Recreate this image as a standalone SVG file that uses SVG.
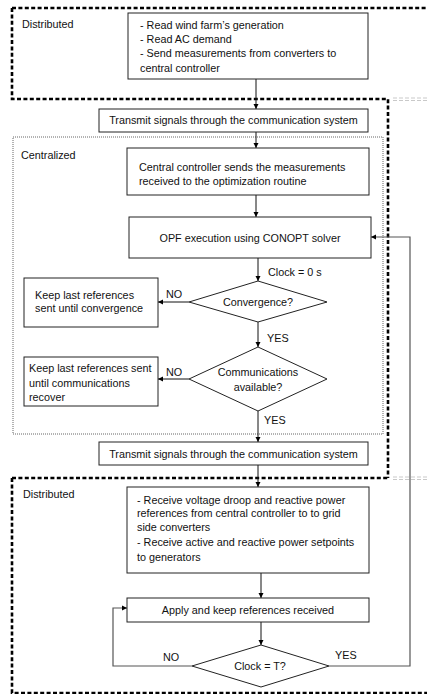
<svg xmlns="http://www.w3.org/2000/svg" width="427" height="694" viewBox="0 0 427 694">
<defs>
<marker id="ah" markerWidth="6" markerHeight="6" refX="5" refY="3" orient="auto" markerUnits="userSpaceOnUse">
<path d="M0,0.5 L5,3 L0,5.5 Z" fill="#000"/>
</marker>
</defs>
<style>
text{font-family:"Liberation Sans",Arial,sans-serif;font-size:10.8px;fill:#111}
.c{text-anchor:middle}
.box{fill:#fff;stroke:#222;stroke-width:1}
.thick{fill:none;stroke:#000;stroke-width:2.6;stroke-dasharray:4 2.4}
.dot{fill:none;stroke:#555;stroke-width:0.9;stroke-dasharray:1 1}
.faint{fill:none;stroke:#bbb;stroke-width:0.8;stroke-dasharray:4 2}
.ln{fill:none;stroke:#111;stroke-width:1}
.fb{fill:none;stroke:#555;stroke-width:1.2}
</style>
<rect width="427" height="694" fill="#fff"/>
<g id="regions">
<path class="thick" d="M12,8 H427 M12,8 V99 H388 V478 M12,478 H388 M12,478 V693 H427"/>
<path class="faint" d="M393,98 H427 M393,100.5 H427 M393,477 H427 M393,479.5 H427"/>
<rect class="dot" x="13" y="137" width="370" height="297"/>
<text x="22" y="28">Distributed</text>
<text x="21" y="159">Centralized</text>
<text x="23" y="498">Distributed</text>
</g>
<g id="connectors">
<line class="ln" x1="256" y1="79" x2="256" y2="109" marker-end="url(#ah)"/>
<line class="ln" x1="256" y1="132" x2="256" y2="148" marker-end="url(#ah)"/>
<line class="ln" x1="256" y1="195" x2="256" y2="217" marker-end="url(#ah)"/>
<line class="ln" x1="258" y1="258" x2="258" y2="281" marker-end="url(#ah)"/>
<line class="ln" x1="189" y1="302" x2="158" y2="302" marker-end="url(#ah)"/>
<line class="ln" x1="258" y1="322" x2="258" y2="347" marker-end="url(#ah)"/>
<line class="ln" x1="189" y1="379" x2="158" y2="379" marker-end="url(#ah)"/>
<line class="ln" x1="258" y1="411" x2="258" y2="442" marker-end="url(#ah)"/>
<line class="ln" x1="258" y1="465" x2="258" y2="487" marker-end="url(#ah)"/>
<line class="ln" x1="261" y1="573" x2="261" y2="598" marker-end="url(#ah)"/>
<line class="ln" x1="261" y1="622" x2="261" y2="645" marker-end="url(#ah)"/>
<path class="fb" d="M192,666 H113 V608 H127" marker-end="url(#ah)"/>
<path class="fb" d="M329,666 H410 V237 H371" marker-end="url(#ah)"/>
<text x="268" y="276">Clock = 0 s</text>
<text x="166" y="298">NO</text>
<text x="267" y="342">YES</text>
<text x="166" y="376">NO</text>
<text x="264" y="424">YES</text>
<text x="163" y="661">NO</text>
<text x="335" y="659">YES</text>
</g>
<g id="n-read">
<rect class="box" x="128" y="13" width="240" height="66"/>
<text x="140" y="29">- Read wind farm’s generation</text>
<text x="140" y="43">- Read AC demand</text>
<text x="140" y="57">- Send measurements from converters to</text>
<text x="140" y="72">central controller</text>
</g>
<g id="n-transmit1">
<rect class="box" x="99" y="109" width="269" height="23"/>
<text class="c" x="233.5" y="124">Transmit signals through the communication system</text>
</g>
<g id="n-central">
<rect class="box" x="127" y="148" width="242" height="47"/>
<text x="139" y="171">Central controller sends the measurements</text>
<text x="139" y="185">received to the optimization routine</text>
</g>
<g id="n-opf">
<rect class="box" x="129" y="217" width="242" height="41"/>
<text class="c" x="250" y="242">OPF execution using CONOPT solver</text>
</g>
<g id="n-conv">
<polygon class="box" points="258,281 327,302 258,322 189,302"/>
<text class="c" x="258" y="306">Convergence?</text>
</g>
<g id="n-keep1">
<rect class="box" x="24" y="278" width="134" height="49"/>
<text x="35" y="299">Keep last references</text>
<text x="35" y="312">sent until convergence</text>
</g>
<g id="n-comm">
<polygon class="box" points="258,347 327,379 258,411 189,379"/>
<text class="c" x="258" y="376">Communications</text>
<text class="c" x="258" y="391">available?</text>
</g>
<g id="n-keep2">
<rect class="box" x="24" y="357" width="134" height="49"/>
<text x="29" y="372">Keep last references sent</text>
<text x="29" y="387">until communications</text>
<text x="29" y="401">recover</text>
</g>
<g id="n-transmit2">
<rect class="box" x="99" y="442" width="269" height="23"/>
<text class="c" x="233.5" y="458">Transmit signals through the communication system</text>
</g>
<g id="n-receive">
<rect class="box" x="127" y="487" width="242" height="86"/>
<text x="137" y="504">- Receive voltage droop and reactive power</text>
<text x="137" y="517">references from central controller to to grid</text>
<text x="137" y="531">side converters</text>
<text x="137" y="546">- Receive active and reactive power setpoints</text>
<text x="137" y="561">to generators</text>
</g>
<g id="n-apply">
<rect class="box" x="127" y="598" width="242" height="24"/>
<text class="c" x="248" y="614">Apply and keep references received</text>
</g>
<g id="n-clock">
<polygon class="box" points="261,645 329,666 261,687 192,666"/>
<text class="c" x="260" y="670">Clock = T?</text>
</g>
</svg>
